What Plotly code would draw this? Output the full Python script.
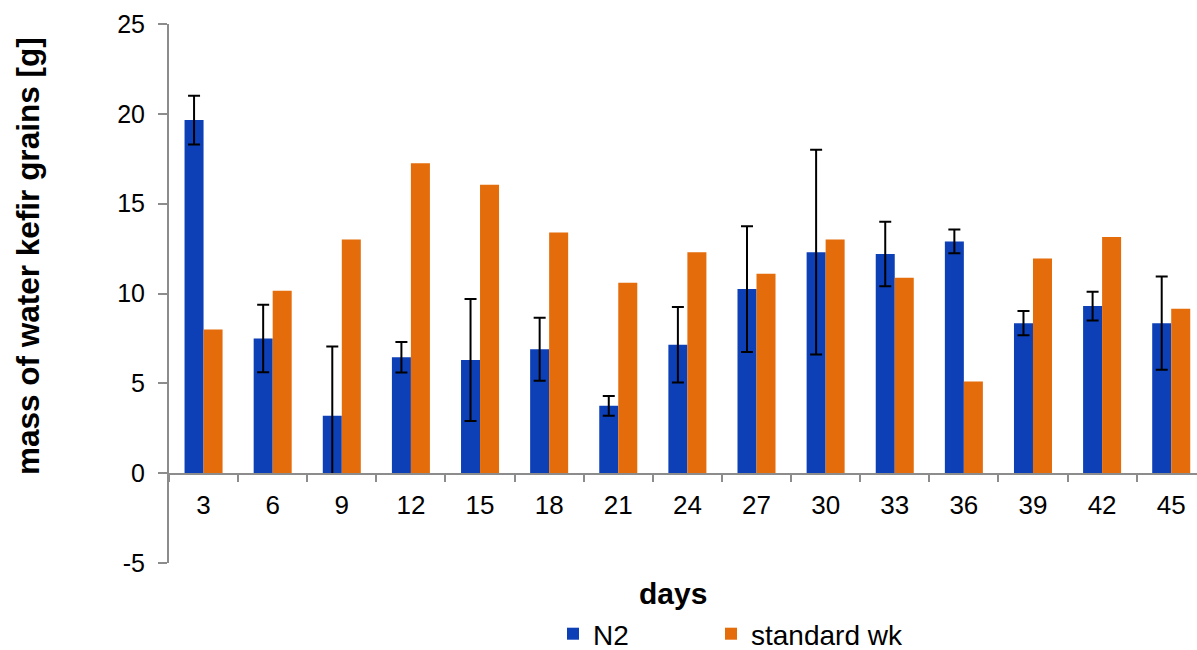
import plotly.graph_objects as go

days = ["3", "6", "9", "12", "15", "18", "21", "24", "27", "30", "33", "36", "39", "42", "45"]
n2 = [19.65, 7.5, 3.2, 6.45, 6.3, 6.9, 3.75, 7.15, 10.25, 12.3, 12.2, 12.9, 8.35, 9.3, 8.35]
n2_err = [1.35, 1.88, 3.85, 0.85, 3.4, 1.75, 0.55, 2.1, 3.5, 5.7, 1.8, 0.66, 0.67, 0.8, 2.6]
standard_wk = [8.0, 10.15, 13.0, 17.25, 16.05, 13.4, 10.6, 12.3, 11.1, 13.0, 10.88, 5.1, 11.95, 13.15, 9.15]
y_ticks = [-5, 0, 5, 10, 15, 20, 25]
y_tick_text = ["-5", "0", "5", "10", "15", "20", "25"]
Y_MIN, Y_MAX = -5, 25

BLUE = "#0d3fb6"
ORANGE = "#e46c0a"
AXIS_GRAY = "#8c8c8c"
FONT = "Liberation Sans, Arial, sans-serif"

upper_vals = [v for v in y_ticks if v >= 0]
upper_text = [t for v, t in zip(y_ticks, y_tick_text) if v >= 0]
lower_vals = [v for v in y_ticks if v < 0]
lower_text = [t for v, t in zip(y_ticks, y_tick_text) if v < 0]

fig = go.Figure()
fig.add_trace(go.Bar(
    x=days, y=n2, name="N2", marker=dict(color=BLUE, line=dict(width=0)),
    error_y=dict(type="data", array=n2_err, visible=True, color="black", thickness=2, width=6),
    legend="legend", cliponaxis=False,
))
fig.add_trace(go.Bar(
    x=days, y=standard_wk, name="standard wk", marker=dict(color=ORANGE, line=dict(width=0)),
    legend="legend2", cliponaxis=False,
))
# empty helper trace so the lower (negative) part of the value axis is drawn
fig.add_trace(go.Scatter(x=[], y=[], xaxis="x", yaxis="y2", showlegend=False, hoverinfo="skip"))

L, R, T, B = 169, 0, 24, 87
W, H = 1197, 650
pw = W - L - R
ph = H - T - B
leg_y = -(634 - (T + ph)) / ph
zero_frac = (0 - Y_MIN) / (Y_MAX - Y_MIN)

axis_common = dict(showline=True, linecolor=AXIS_GRAY, linewidth=2,
                   ticks="outside", ticklen=9, tickcolor=AXIS_GRAY, tickwidth=2,
                   showgrid=False, zeroline=False, tickfont=dict(size=25), ticklabelstandoff=8)

fig.update_layout(
    width=W, height=H,
    margin=dict(l=L, r=R, t=T, b=B, pad=0, autoexpand=False),
    plot_bgcolor="white", paper_bgcolor="white",
    barmode="group", bargap=0.45, bargroupgap=0,
    font=dict(family=FONT, size=26, color="black"),
    showlegend=True,
    legend=dict(orientation="h", x=(553 - L) / pw, xanchor="left", y=leg_y,
                yanchor="middle", font=dict(size=28), itemwidth=30, bgcolor="rgba(0,0,0,0)"),
    legend2=dict(orientation="h", x=(711 - L) / pw, xanchor="left", y=leg_y,
                 yanchor="middle", font=dict(size=28), itemwidth=30, bgcolor="rgba(0,0,0,0)"),
    xaxis=dict(
        type="category", range=[-0.5, 14.373], anchor="y",
        showline=True, linecolor=AXIS_GRAY, linewidth=2,
        ticks="outside", tickson="boundaries", ticklen=7, tickcolor=AXIS_GRAY, tickwidth=2,
        showgrid=False, zeroline=False, tickfont=dict(size=26), ticklabelstandoff=8,
    ),
    yaxis=dict(range=[0, Y_MAX], domain=[zero_frac, 1], anchor="x", tickmode="array",
               tickvals=upper_vals, ticktext=upper_text, **axis_common),
    yaxis2=dict(range=[Y_MIN, 0], domain=[0, zero_frac], anchor="x", tickmode="array",
                tickvals=lower_vals, ticktext=lower_text, **axis_common),
    annotations=[
        dict(text="<b>days</b>", xref="paper", yref="paper", x=(673 - L) / pw,
             y=-(593 - (T + ph)) / ph, xanchor="center", yanchor="middle", showarrow=False,
             font=dict(size=30)),
        dict(text="<b>mass of water kefir grains [g]</b>", xref="paper", yref="paper",
             x=(28 - L) / pw, y=((T + ph) - 256) / ph, xanchor="center", yanchor="middle",
             textangle=-90, showarrow=False, font=dict(size=31.5)),
    ],
)

fig.write_html("out.html")
